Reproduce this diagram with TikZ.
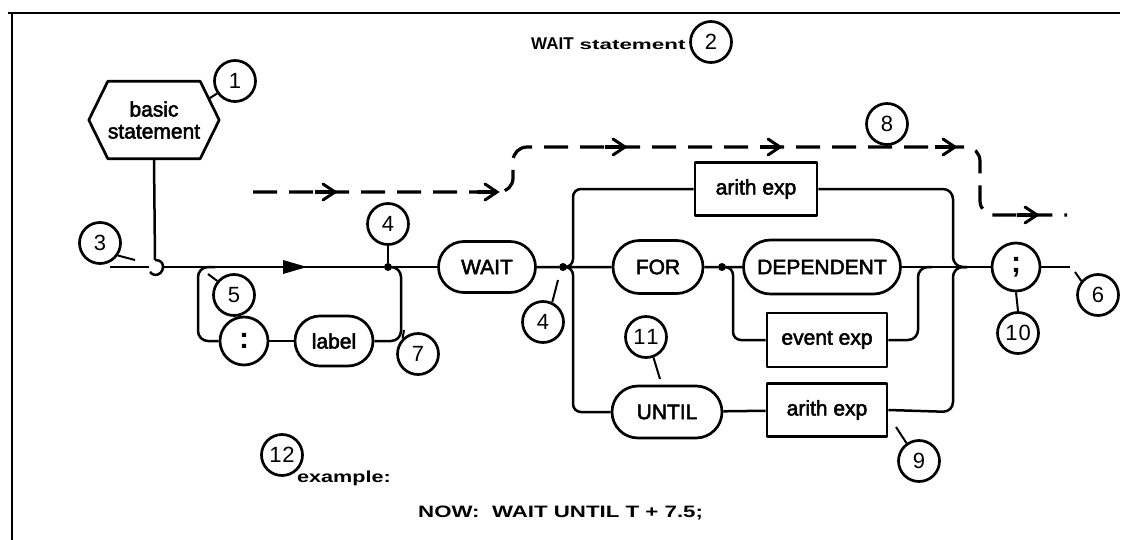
\documentclass[tikz,border=0pt]{standalone}
\usepackage{fontspec}
\setmainfont{Liberation Sans}
\newfontfamily\boxfont[FakeBold=2.5]{Liberation Sans}
\newfontfamily\widefont[FakeStretch=1.35]{Liberation Sans}
\newfontfamily\titlewide[FakeStretch=1.6]{Liberation Sans}
\usetikzlibrary{shapes.misc,calc}

\tikzset{
  conn/.style={line width=2.5pt},
  pill/.style={draw, rounded rectangle, line width=2.7pt, inner sep=0pt,
    font=\boxfont\fontsize{21}{21}\selectfont},
  termbox/.style={draw, rectangle, line width=2.7pt, inner sep=0pt,
    font=\boxfont\fontsize{21}{21}\selectfont},
  punct/.style={draw, circle, line width=2.7pt, inner sep=0pt, minimum size=48pt,
    font=\fontsize{30}{30}\selectfont\bfseries},
  num/.style={draw, circle, line width=2.7pt, inner sep=0pt, minimum size=41pt,
    font=\fontsize{22}{22}\selectfont},
  junction/.style={circle, fill, inner sep=0pt, minimum size=8pt},
  leader/.style={line width=2pt},
  bypass/.style={line width=3.2pt, dash pattern=on 24pt off 12pt},
  plain/.style={inner sep=0pt, anchor=base west},
  chev/.pic={
    \draw[line width=3pt, line cap=round, line join=miter] (-12,-8) -- (0,0) -- (-12,8);
    \draw[line width=3.2pt] (-20,0) -- (0,0);
  }
}

\begin{document}
\begin{tikzpicture}[x=1pt,y=-1pt,line join=round]
\useasboundingbox (0,0) rectangle (1123,540);

% frame
\draw[line width=2.8pt] (8,13) -- (1120,13);
\draw[line width=2.8pt] (12,13) -- (12,540);

% title
\node[plain] (title) at (531,50)
  {\bfseries\fontsize{17}{17}\selectfont WAIT\hspace{6pt}{\titlewide\fontsize{14}{14}\selectfont statement}};
\node[num] (n2) at (711,42) {2};

% basic statement hexagon
\node[inner sep=0pt, minimum width=130pt, minimum height=77pt, align=center,
      font=\boxfont\fontsize{21}{22}\selectfont] (basic) at (154,120) {basic\\statement};
\draw[line width=2.7pt] (basic.west) -- ($(basic.north west)+(19,0)$)
  -- ($(basic.north east)+(-19,0)$) -- (basic.east)
  -- ($(basic.south east)+(-19,0)$) -- ($(basic.south west)+(19,0)$) -- cycle;
\node[num] (n1) at (235,81) {1};
\draw[leader] (n1.215) -- ++(-8,5);

% entry and joint with the basic statement
\coordinate (in) at (110,267);
\coordinate (hookL) at (149,267);
\coordinate (hookR) at (163,267);
\coordinate (hookT) at (155,260);
\draw[conn] (basic.south) -- (hookT);
\draw[conn] (hookT) .. controls +(6,0) and +(0,-4) .. (hookR)
  .. controls +(0,5) and +(4,0) .. (155,275)
  .. controls +(-2,0) and +(1,1) .. (150,272);
\draw[conn] (in) -- (hookL);
\node[num] (n3) at (100,243) {3};
\draw[leader] (n3.-35) -- (135,260);

% junctions
\node[junction] (d1) at (388,267) {};
\node[junction] (d2) at (563,267) {};
\node[junction] (d3) at (722,267) {};

% nodes
\node[punct] (colon) at (244,341) {:};
\node[pill, minimum width=78pt, minimum height=50pt] (label) at (334,341) {label};
\node[pill, minimum width=97pt, minimum height=51pt] (wait) at (487,267) {WAIT};
\node[pill, minimum width=90pt, minimum height=53pt] (for) at (658,267) {FOR};
\node[pill, minimum width=157pt, minimum height=54pt] (dep) at (822,267) {DEPENDENT};
\node[pill, minimum width=110pt, minimum height=52pt] (until) at (667,412) {UNTIL};
\node[termbox, minimum width=122pt, minimum height=53pt] (arith1) at (756,189) {arith exp};
\node[termbox, minimum width=120pt, minimum height=54pt] (event) at (827,340) {event exp};
\node[termbox, minimum width=120pt, minimum height=53pt] (arith2) at (827,410) {arith exp};
\node[punct] (semi) at (1016,267) {;};
\coordinate (out) at (1070,267);

% main line
\draw[conn] (hookR) -- (d1) -- (wait);
\fill (283,260) -- (307,267) -- (283,274) -- cycle;

% optional label
\draw[conn, rounded corners=10pt] (215,267) -- (198,267) -- (198,341) -- (colon.west);
\draw[conn] (colon) -- (label);
\draw[conn, rounded corners=10pt] (label.east) -- (401,341) -- (401,267) -- (d1.center);

% alternatives after WAIT
\draw[conn] (wait) -- (d2) -- (for);
\draw[conn, rounded corners=8pt] (d2.center) -- (573,267) -- (573,189) -- (arith1.west);
\draw[conn, rounded corners=8pt] (d2.center) -- (573,267) -- (573,412) -- (until.west);
\draw[conn] (until) -- (arith2);
\draw[conn] (for) -- (d3) -- (dep);
\draw[conn, rounded corners=8pt] (d3.center) -- (733,267) -- (733,340) -- (event.west);
\draw[conn] (dep.east) -- (semi.west);
\draw[conn, rounded corners=10pt] (event.east) -- (918,340) -- (918,267) -- (932,267);
\draw[conn, rounded corners=10pt] (arith1.east) -- (953,189) -- (953,267) -- (967,267);
\draw[conn, rounded corners=10pt] (arith2.east) -- (953,412) -- (953,267) -- (967,267);
\draw[conn] (semi.east) -- (out);

% bypass path
\draw[bypass, rounded corners=14pt] (253,192) -- (513,192) -- (513,147)
  -- (980,147) -- (980,215) -- (1067,215);
\pic at (335,192) {chev};
\pic at (497,192) {chev};
\pic at (625,147) {chev};
\pic at (780,147) {chev};
\pic at (955,147) {chev};
\pic at (1037,215) {chev};

% callout numbers
\node[num] (n4a) at (388,224) {4};
\draw[leader] (n4a.south) -- (d1);
\node[num] (n4b) at (543,322) {4};
\draw[leader] (n4b.65) -- (558,280);
\node[num] (n5) at (234,295) {5};
\draw[leader] (n5.140) -- (208,274);
\node[num] (n6) at (1098,295) {6};
\draw[leader] (n6.140) -- (1075,272);
\node[num] (n7) at (418,354) {7};
\draw[leader] (n7.135) -- (404,330);
\node[num] (n8) at (887,124) {8};
\node[num] (n9) at (919,461) {9};
\draw[leader] (n9.125) -- (896,427);
\node[num] (n10) at (1018,333) {1\kern1pt0};
\draw[leader] (n10.north) -- (semi.south);
\node[num] (n11) at (646,337) {1\kern1pt1};
\draw[leader] (n11.-70) -- (660,379);
\node[num] (n12) at (282,455) {1\kern1pt2};

% example
\node[plain] (ex) at (297,482) {\widefont\bfseries\fontsize{16}{16}\selectfont example:};
\node[plain] (now) at (418,517)
  {\widefont\bfseries\fontsize{16.5}{16.5}\selectfont NOW:\ \ WAIT UNTIL T + 7.5;};
\end{tikzpicture}
\end{document}
